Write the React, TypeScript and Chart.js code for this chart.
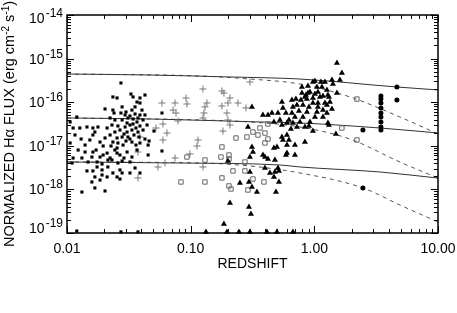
import React, { useEffect, useRef } from "react";
import { Chart, registerables } from "chart.js";

Chart.register(...registerables);

// ---------- axis ticks ----------
const xTickValues = [0.01, 0.1, 1, 10];
const xTickLabels = ["0.01", "0.10", "1.00", "10.00"];
const yTickValues = [1e-14, 1e-15, 1e-16, 1e-17, 1e-18, 1e-19];
const yTickExponents = ["-14", "-15", "-16", "-17", "-18", "-19"];
const xTitle = "REDSHIFT";
const yTitleMain = "NORMALIZED H\u03b1 FLUX (erg cm";
const yTitleParts = [
  { t: yTitleMain, sup: false },
  { t: "-2", sup: true },
  { t: " s", sup: false },
  { t: "-1", sup: true },
  { t: ")", sup: false },
];

// ---------- model curves ----------
const solidTopZ = [0.01, 0.047, 0.208, 0.765, 4.66, 10];
const solidTopF = [4.43e-16, 4.2e-16, 3.79e-16, 3.4e-16, 2.23e-16, 1.91e-16];
const solidMidZ = [0.01, 0.047, 0.363, 0.765, 3.39, 10];
const solidMidF = [4.35e-17, 4.12e-17, 3.52e-17, 3.34e-17, 2.56e-17, 1.97e-17];
const solidLowZ = [0.01, 0.082, 0.527, 0.765, 3.39, 10];
const solidLowF = [4.25e-18, 4.03e-18, 3.63e-18, 3.27e-18, 2.51e-18, 1.82e-18];
const dashTopZ = [0.01, 0.119, 0.302, 0.765, 1.94, 4.92, 10];
const dashTopF = [4.43e-16, 3.99e-16, 3.4e-16, 2.61e-16, 1.32e-16, 4.58e-17, 1.87e-17];
const dashMidZ = [0.01, 0.119, 0.302, 0.765, 1.94, 4.92, 10];
const dashMidF = [4.35e-17, 3.92e-17, 3.52e-17, 2.7e-17, 1.43e-17, 4.25e-18, 1.82e-18];
const dashLowZ = [0.01, 0.119, 0.302, 0.765, 2.47, 4.92, 10];
const dashLowF = [4.25e-18, 4.03e-18, 3.44e-18, 2.38e-18, 1.08e-18, 4.39e-19, 1.79e-19];

// ---------- filled squares (local sample) ----------
const squareZ = [
  0.0273, 0.0235, 0.0254, 0.0329, 0.0342, 0.0389, 0.0427, 0.0368, 0.0389, 0.0235,
  0.024, 0.0273, 0.03, 0.0335, 0.0279, 0.0355, 0.0203, 0.0223, 0.0244, 0.012,
  0.0106, 0.0279, 0.0311, 0.0342, 0.0368, 0.0323, 0.0295, 0.0268, 0.0244, 0.0306,
  0.0335, 0.0361, 0.0375, 0.0348, 0.0311, 0.0279, 0.0254, 0.0223, 0.0211, 0.0231,
  0.0284, 0.0335, 0.0258, 0.0235, 0.0127, 0.0145, 0.0162, 0.0178, 0.013, 0.0153,
  0.0162, 0.0185, 0.0196, 0.0172, 0.0159, 0.0132, 0.0112, 0.0106, 0.0185, 0.0211,
  0.0223, 0.0244, 0.0268, 0.0306, 0.0335, 0.0368, 0.0389, 0.0427, 0.0453, 0.0412,
  0.0444, 0.0412, 0.0389, 0.0175, 0.0192, 0.0214, 0.0235, 0.0268, 0.0168, 0.0211,
  0.0254, 0.0355, 0.0389, 0.014, 0.0162, 0.0196, 0.0254, 0.0289, 0.0453, 0.011,
  0.0175, 0.0192, 0.0231, 0.0258, 0.0279, 0.0323, 0.0145, 0.0162, 0.0192, 0.0279,
  0.0323, 0.0159, 0.0185, 0.0268, 0.0168, 0.0203, 0.0132, 0.012, 0.0273, 0.0375,
  0.0586, 0.0505, 0.0586, 0.0461, 0.0112, 0.0214,
  0.0295, 0.0323, 0.0355, 0.0375, 0.0306, 0.0342, 0.0389, 0.0258, 0.0289, 0.0323,
  0.0382, 0.03, 0.0254, 0.0203, 0.0227, 0.0404, 0.0427, 0.0361, 0.0116, 0.014,
  0.0123, 0.0148, 0.0168,
];
const squareF = [
  2.76e-16, 1.32e-16, 1.25e-16, 1.54e-16, 1.32e-16, 1.25e-16, 1.46e-16, 1.01e-16, 9.6e-17, 6.6e-17,
  5.65e-17, 5.65e-17, 5.96e-17, 6.6e-17, 7.8e-17, 7.8e-17, 7.0e-17, 4.34e-17, 3.91e-17, 4.58e-17,
  3.52e-17, 3.91e-17, 4.34e-17, 4.12e-17, 3.52e-17, 3.0e-17, 2.7e-17, 2.3e-17, 2.07e-17, 2.07e-17,
  2.3e-17, 2.56e-17, 2.07e-17, 1.77e-17, 1.59e-17, 1.59e-17, 1.51e-17, 1.77e-17, 2.56e-17, 3.0e-17,
  1.04e-17, 1.22e-17, 1.16e-17, 1.22e-17, 2.56e-17, 2.7e-17, 2.56e-17, 2.7e-17, 1.43e-17, 1.36e-17,
  1.77e-17, 1.22e-17, 9.9e-18, 8.0e-18, 5.53e-18, 5.25e-18, 5.25e-18, 1.16e-17, 5.53e-18, 6.8e-18,
  5.25e-18, 8.0e-18, 6.15e-18, 7.2e-18, 5.53e-18, 8.0e-18, 1.16e-17, 1.43e-17, 1.04e-17, 2.3e-17,
  3.0e-17, 3.91e-17, 5.09e-17, 3.27e-18, 2.79e-18, 3.27e-18, 2.38e-18, 2.79e-18, 1.93e-18, 1.93e-18,
  1.93e-18, 3.1e-18, 2.38e-18, 7.2e-18, 7.2e-18, 6.15e-18, 6.8e-18, 5.25e-18, 6.15e-18, 4.03e-18,
  4.25e-18, 3.82e-18, 4.72e-18, 4.03e-18, 4.48e-18, 4.25e-18, 2.65e-18, 2.65e-18, 2.14e-18, 2.38e-18,
  2.38e-18, 1.48e-18, 1.64e-18, 1.73e-18, 1.08e-18, 9.2e-19, 8.7e-19, 1.11e-19, 1.06e-19, 1.06e-19,
  5.65e-17, 2.18e-17, 7.6e-18, 1.29e-17, 2.56e-17, 4.72e-18,
  5.09e-17, 4.83e-17, 5.36e-17, 4.34e-17, 3.34e-17, 3.17e-17, 2.85e-17, 2.85e-17, 1.86e-17, 1.43e-17,
  1.59e-17, 1.29e-17, 8.9e-18, 1.51e-17, 9.9e-18, 6.6e-17, 5.09e-17, 1.04e-17, 1.77e-17, 1.04e-17,
  8.0e-18, 4.25e-18, 2.07e-17,
];

// ---------- plus signs ----------
const plusZ = [
  0.3015, 0.1257, 0.179, 0.1858, 0.0916, 0.0933, 0.0586, 0.0747, 0.1354, 0.2078,
  0.2003, 0.179, 0.2412, 0.28, 0.1305, 0.0721, 0.0761, 0.1281, 0.1965, 0.1257,
  0.079, 0.2003, 0.2078, 0.1824, 0.0597, 0.0524, 0.0643, 0.0597, 0.1146, 0.1125,
  0.0987, 0.0747, 0.0389, 0.0375, 0.0544, 0.0375, 0.062, 0.1257,
];
const plusF = [
  2.91e-16, 2.01e-16, 1.81e-16, 1.62e-16, 1.25e-16, 9.1e-17, 9.6e-17, 9.6e-17, 9.6e-17, 1.25e-16,
  9.6e-17, 8.2e-17, 9.6e-17, 7.4e-17, 7.8e-17, 6.6e-17, 5.65e-17, 5.65e-17, 5.65e-17, 4.34e-17,
  3.71e-17, 3.91e-17, 3.0e-17, 2.18e-17, 3.17e-17, 2.56e-17, 1.96e-17, 1.36e-17, 1.36e-17, 9.9e-18,
  6.5e-18, 5.25e-18, 1.59e-17, 7.2e-18, 3.27e-18, 1.83e-18, 4.03e-18, 3.27e-18,
];

// ---------- open squares ----------
const openZ = [
  0.0933, 0.1305, 0.1757, 0.204, 0.2748, 0.0835, 0.1305, 0.179, 0.2198, 0.2748,
  0.204, 0.2117, 0.2906, 0.3189, 0.3913, 0.4216, 0.3632, 0.3189, 0.3987, 0.2852,
  0.2324, 0.3987, 0.179, 0.204, 0.35, 0.4216, 2.21, 1.671, 2.21,
];
const openF = [
  5.53e-18, 4.72e-18, 5.53e-18, 4.98e-18, 4.25e-18, 1.48e-18, 1.48e-18, 1.83e-18, 2.65e-18, 2.65e-18,
  1.2e-18, 1.02e-18, 9.7e-19, 1.73e-18, 1.48e-18, 3.17e-17, 2.56e-17, 2.07e-17, 1.96e-17, 1.59e-17,
  1.51e-17, 1.16e-17, 9.4e-18, 6.15e-18, 1.77e-17, 1.43e-17, 1.18e-16, 2.56e-17, 1.36e-17,
];

// ---------- filled triangles ----------
const triZ = [
  1.523, 1.671, 1.61, 1.388, 1.414, 1.218, 0.9743, 0.8877, 1.05, 1.152,
  1.264, 1.069, 1.011, 0.8877, 0.7937, 1.288, 1.174, 1.11, 0.9743, 0.8712,
  0.7791, 0.7099, 0.6589, 0.547, 1.523, 1.337, 1.218, 1.069, 0.9743, 0.9043,
  0.8087, 0.7232, 0.6713, 0.5573, 1.174, 1.388, 1.05, 0.8712, 0.7507, 0.6589,
  0.5893, 0.5079, 0.4541, 0.3841, 1.264, 1.011, 0.8087, 0.6968, 0.6232, 0.527,
  0.4714, 1.288, 0.9213, 0.7647, 0.6713, 0.6004, 0.547, 0.8394, 0.7232, 0.6467,
  0.9743, 1.495, 0.6004, 0.547, 0.8394, 0.6232, 0.5573, 0.4985, 0.4714, 0.6004,
  0.6968, 0.3987, 0.4802, 0.3987, 0.4802, 0.5079, 0.4714, 0.4375, 1.011, 1.131,
  0.9213, 0.8394, 1.312, 1.264, 1.069, 1.174, 1.312, 0.9043, 0.313, 0.4216,
  0.7937, 0.8552, 0.6004, 0.6968, 0.2906, 0.313, 0.3015, 0.3841, 0.4216, 0.5893,
  0.3189, 0.2003, 0.3015, 0.5174, 0.2503, 0.296, 0.313, 0.3435, 0.5174, 0.4893,
  0.2078, 0.296, 0.3072, 0.1858,
  0.1329, 0.1965, 0.2458, 0.3015, 0.4138, 0.4985, 0.6713,
];
const triF = [
  7.93e-16, 4.68e-16, 3.23e-16, 3.23e-16, 2.62e-16, 2.91e-16, 2.91e-16, 2.35e-16, 2.23e-16, 2.23e-16,
  1.905e-16, 1.71e-16, 1.54e-16, 1.62e-16, 1.62e-16, 1.46e-16, 1.39e-16, 1.32e-16, 1.25e-16, 1.18e-16,
  1.12e-16, 1.18e-16, 1.12e-16, 1.01e-16, 1.62e-16, 1.01e-16, 9.6e-17, 9.6e-17, 9.6e-17, 7.8e-17,
  8.6e-17, 8.6e-17, 7.8e-17, 7.4e-17, 6.6e-17, 7.0e-17, 5.96e-17, 5.96e-17, 6.28e-17, 5.65e-17,
  5.65e-17, 5.65e-17, 5.65e-17, 5.09e-17, 5.65e-17, 4.58e-17, 4.58e-17, 4.58e-17, 3.91e-17, 3.91e-17,
  3.52e-17, 3.34e-17, 3.52e-17, 3.52e-17, 3.34e-17, 3.34e-17, 3.0e-17, 2.7e-17, 2.7e-17, 2.43e-17,
  2.18e-17, 1.86e-17, 1.77e-17, 1.59e-17, 1.22e-17, 1.36e-17, 1.36e-17, 9.4e-18, 8.9e-18, 6.8e-18,
  6.15e-18, 5.53e-18, 4.72e-18, 3.1e-18, 2.51e-18, 3.1e-18, 1.93e-18, 2.38e-18, 3.06e-16, 2.91e-16,
  1.71e-16, 1.32e-16, 1.32e-16, 8.6e-17, 7.8e-17, 4.58e-17, 3.0e-17, 2.85e-17, 7.8e-17, 5.09e-17,
  2.23e-16, 1.46e-16, 1.04e-17, 1.04e-17, 2.7e-17, 9.4e-18, 5.53e-18, 6.15e-18, 4.98e-18, 6.15e-18,
  7.2e-18, 4.48e-18, 2.51e-18, 2.65e-18, 1.4e-18, 1.48e-18, 1.13e-18, 8.7e-19, 1.48e-18, 8.7e-19,
  4.87e-19, 3.95e-19, 2.73e-19, 1.61e-19,
  1.06e-19, 1.06e-19, 1.06e-19, 1.06e-19, 1.06e-19, 1.06e-19, 1.06e-19,
];

// ---------- filled circles ----------
const circZ = [3.455, 3.455, 3.455, 3.455, 3.455, 3.455, 3.455, 3.455, 3.455, 4.654, 4.654, 2.471, 2.471];
const circF = [1.39e-16, 1.18e-16, 9.6e-17, 7.4e-17, 5.65e-17, 4.58e-17, 3.52e-17, 2.7e-17, 2.3e-17, 2.23e-16, 1.12e-16, 2.3e-17, 1.08e-18];

const FONT = '"Liberation Sans", Arial, Helvetica, sans-serif';

function pts(zs: number[], fs: number[]) {
  return zs.map((z, i) => ({ x: z, y: fs[i] }));
}

const axisDecor = {
  id: "axisDecor",
  afterDatasetsDraw(chart: any) {
    const { ctx, chartArea: a } = chart;
    const xs = chart.scales.x;
    const ys = chart.scales.y;
    ctx.save();
    ctx.strokeStyle = "#000";
    ctx.lineWidth = 1;
    const seg = (x1: number, y1: number, x2: number, y2: number) => {
      ctx.beginPath();
      ctx.moveTo(x1, y1);
      ctx.lineTo(x2, y2);
      ctx.stroke();
    };
    // x ticks (bottom + top, pointing inward)
    for (let k = -2; k <= 1; k++) {
      for (let m = 1; m <= 9; m++) {
        const v = m * Math.pow(10, k);
        if (v > 10.001) break;
        const p = Math.round(xs.getPixelForValue(v)) + 0.5;
        const len = m === 1 ? 7 : 4;
        seg(p, a.bottom, p, a.bottom - len);
        seg(p, a.top, p, a.top + len);
      }
    }
    // y ticks (left + right, pointing inward)
    for (let k = -19; k <= -14; k++) {
      for (let m = 1; m <= 9; m++) {
        const v = m * Math.pow(10, k);
        if (v > 1.0001e-14) break;
        const p = Math.round(ys.getPixelForValue(v)) + 0.5;
        const len = m === 1 ? 7 : 4;
        seg(a.left, p, a.left + len, p);
        seg(a.right, p, a.right - len, p);
      }
    }
    ctx.lineWidth = 1.5;
    ctx.strokeRect(a.left, a.top, a.right - a.left, a.bottom - a.top);

    ctx.fillStyle = "#000";
    // x tick labels
    ctx.font = `14px ${FONT}`;
    ctx.textAlign = "center";
    ctx.textBaseline = "alphabetic";
    xTickValues.forEach((v, i) => {
      ctx.fillText(xTickLabels[i], xs.getPixelForValue(v), a.bottom + 20);
    });
    // x title
    ctx.font = `14px ${FONT}`;
    ctx.fillText(xTitle, (a.left + a.right) / 2, a.bottom + 35);

    // y tick labels: 10^exp
    ctx.textAlign = "left";
    yTickValues.forEach((v, i) => {
      const ty = ys.getPixelForValue(v);
      const base = Math.max(Math.min(ty + 5, a.bottom), a.top + 8);
      ctx.font = `12px ${FONT}`;
      const we = ctx.measureText(yTickExponents[i]).width;
      ctx.font = `14px ${FONT}`;
      const wb = ctx.measureText("10").width;
      const right = a.left - 4;
      const x0 = right - we - wb - 1;
      ctx.fillText("10", x0, base);
      ctx.font = `12px ${FONT}`;
      ctx.fillText(yTickExponents[i], x0 + wb + 1, base - 6);
    });

    // y title (rotated)
    const mainSize = 14.5;
    const supSize = 10;
    let total = 0;
    yTitleParts.forEach((p) => {
      ctx.font = `${p.sup ? supSize : mainSize}px ${FONT}`;
      total += ctx.measureText(p.t).width;
    });
    ctx.translate(14, (a.top + a.bottom) / 2);
    ctx.rotate(-Math.PI / 2);
    let cx = -total / 2;
    yTitleParts.forEach((p) => {
      ctx.font = `${p.sup ? supSize : mainSize}px ${FONT}`;
      ctx.fillText(p.t, cx, p.sup ? -5.5 : 0);
      cx += ctx.measureText(p.t).width;
    });
    ctx.restore();
  },
};

export default function App() {
  const ref = useRef<HTMLCanvasElement | null>(null);
  useEffect(() => {
    if (!ref.current) return;
    const lineDs = (zs: number[], fs: number[], dashed: boolean) => ({
      data: pts(zs, fs),
      showLine: true,
      borderColor: dashed ? "#555" : "#333",
      borderWidth: 1,
      borderDash: dashed ? [4, 4] : [],
      pointRadius: 0,
      cubicInterpolationMode: "monotone" as const,
      fill: false,
    });
    const chart = new Chart(ref.current, {
      type: "scatter",
      data: {
        datasets: [
          {
            data: pts(triZ, triF),
            pointStyle: "triangle",
            pointRadius: 3.5,
            backgroundColor: "#000",
            borderWidth: 0,
            clip: false,
          } as any,
          {
            data: pts(circZ, circF),
            pointStyle: "circle",
            pointRadius: 2.5,
            backgroundColor: "#000",
            borderWidth: 0,
            clip: false,
          },
          {
            data: pts(squareZ, squareF),
            pointStyle: "rect",
            pointRadius: 2.2,
            backgroundColor: "#000",
            borderWidth: 0,
            clip: false,
          },
          {
            data: pts(openZ, openF),
            pointStyle: "rect",
            pointRadius: 3.1,
            backgroundColor: "rgba(0,0,0,0)",
            borderColor: "#666",
            borderWidth: 1,
            clip: false,
          },
          {
            data: pts(plusZ, plusF),
            pointStyle: "cross",
            pointRadius: 3.5,
            borderColor: "#777",
            borderWidth: 1,
            clip: false,
          },
          lineDs(solidTopZ, solidTopF, false),
          lineDs(solidMidZ, solidMidF, false),
          lineDs(solidLowZ, solidLowF, false),
          lineDs(dashTopZ, dashTopF, true),
          lineDs(dashMidZ, dashMidF, true),
          lineDs(dashLowZ, dashLowF, true),
        ] as any,
      },
      options: {
        responsive: false,
        animation: false,
        devicePixelRatio: 1,
        layout: { padding: { left: 67, right: 19, top: 15, bottom: 80 } },
        scales: {
          x: { type: "logarithmic", min: 0.01, max: 10, display: false },
          y: { type: "logarithmic", min: 1e-19, max: 1e-14, display: false },
        },
        plugins: { legend: { display: false }, tooltip: { enabled: false } },
        events: [],
      },
      plugins: [axisDecor],
    });
    return () => chart.destroy();
  }, []);
  return (
    <div style={{ position: "absolute", left: 0, top: 0, width: 457, height: 313, background: "#fff" }}>
      <canvas ref={ref} width={457} height={313} />
    </div>
  );
}
